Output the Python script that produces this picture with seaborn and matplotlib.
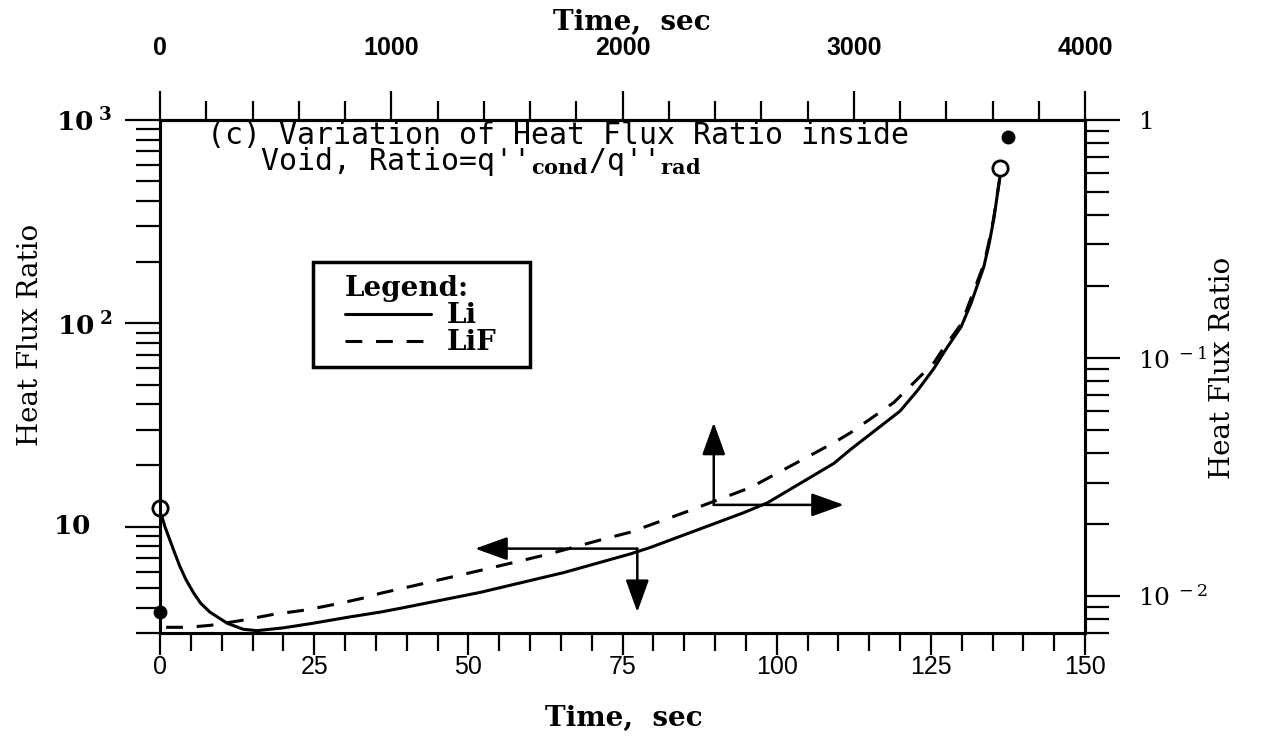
import numpy as np
import pandas as pd
import matplotlib
matplotlib.use("Agg")
import matplotlib.pyplot as plt
import seaborn as sns
from matplotlib.patches import Rectangle
from matplotlib.ticker import FixedLocator, FixedFormatter, NullFormatter

# ---------------- data ----------------
li_time = [0.2, 0.8, 1.6, 2.4, 3.2, 4.2, 5.4, 6.6, 8.1, 10.9, 13.5, 15.7,
           20.0, 24.8, 30.8, 35.7, 39.0, 51.9, 65.5, 76.3, 79.5, 94.6, 98.5,
           109.3, 112.0, 120.0, 122.9, 125.5, 127.5, 129.9, 131.5, 133.6,
           134.5, 135.2, 136.4]
li_ratio = [11.5, 10.0, 8.6, 7.4, 6.4, 5.5, 4.75, 4.2, 3.8, 3.35, 3.13, 3.08,
            3.18, 3.35, 3.6, 3.8, 3.97, 4.75, 5.95, 7.35, 7.9, 11.7, 13.1,
            20.5, 24.0, 37.0, 47.0, 60.0, 75.0, 96.0, 125.0, 190.0,
            250.0, 325.0, 575.0]

lif_time = [1.0, 4.4, 8.1, 13.0, 18.3, 23.8, 29.2, 33.6, 35.7, 39.0, 52.0,
            62.8, 71.4, 76.3, 84.9, 95.8, 109.3, 112.0, 119.0, 125.5, 127.0,
            128.2, 130.0, 131.8, 133.6, 134.4, 135.2, 136.4]
lif_ratio = [3.2, 3.2, 3.27, 3.45, 3.7, 3.9, 4.2, 4.5, 4.7, 4.95, 6.1,
             7.3, 8.6, 9.4, 11.7, 15.6, 25.9, 29.0, 40.8, 64.0, 75.0,
             84.0, 100.0, 140.0, 195.0, 250.0, 330.0, 575.0]

open_time = [0.0, 136.2]
open_ratio = [12.4, 580.0]
filled_time = [0.0, 137.5]
filled_ratio = [3.8, 825.0]

# arrows (tail x, tail y, head x, head y) in bottom/left axis units
arrow_left = (77.4, 7.8, 51.1, 7.8)
arrow_down = (77.4, 7.8, 77.4, 3.8)
arrow_up = (89.8, 12.8, 89.8, 32.5)
arrow_right = (89.8, 12.8, 110.9, 12.8)

bottom_major = [0, 25, 50, 75, 100, 125, 150]
bottom_minor = list(range(0, 151, 5))
top_major = [0, 1000, 2000, 3000, 4000]
top_minor = list(range(0, 4001, 200))
left_major = [10, 100, 1000]
left_labels = [r"$\mathbf{10}$", r"$\mathbf{10}^{\mathbf{\ 2}}$",
               r"$\mathbf{10}^{\mathbf{\ 3}}$"]
left_minor = [3, 4, 5, 6, 7, 8, 9, 20, 30, 40, 50, 60, 70, 80, 90,
              200, 300, 400, 500, 600, 700, 800, 900]
right_major = [0.01, 0.1, 1]
right_labels = [r"$10^{\ -2}$", r"$10^{\ -1}$", r"$1$"]
right_minor = [0.007, 0.008, 0.009, 0.02, 0.03, 0.04, 0.05, 0.06, 0.07, 0.08,
               0.09, 0.2, 0.3, 0.4, 0.5, 0.6, 0.7, 0.8, 0.9]

# ---------------- style ----------------
sns.set_style("ticks")
plt.rcParams["font.family"] = ["DejaVu Serif", "DejaVu Sans"]
plt.rcParams["mathtext.fontset"] = "dejavuserif"
plt.rcParams.update({"text.color": "black", "axes.labelcolor": "black",
                     "xtick.color": "black", "ytick.color": "black",
                     "axes.edgecolor": "black"})

SPINE_LW = 2.2
LINE_LW = 2.2

fig = plt.figure(figsize=(12.64, 7.47), dpi=100)
fig.patch.set_facecolor("white")
ax = fig.add_axes([160 / 1264, 1 - 633 / 747, 925 / 1264, 513 / 747])

df = pd.DataFrame({
    "Time": li_time + lif_time,
    "Ratio": li_ratio + lif_ratio,
    "Material": ["Li"] * len(li_time) + ["LiF"] * len(lif_time),
})
sns.lineplot(data=df, x="Time", y="Ratio", style="Material",
             dashes={"Li": "", "LiF": (5.5, 4.5)}, color="black",
             linewidth=LINE_LW, estimator=None, sort=False, ax=ax)

ax.plot(open_time, open_ratio, linestyle="none", marker="o", markersize=11,
        markerfacecolor="white", markeredgecolor="black", markeredgewidth=2,
        clip_on=False, zorder=5)
ax.plot(filled_time, filled_ratio, linestyle="none", marker="o", markersize=9,
        markerfacecolor="black", markeredgecolor="black", clip_on=False,
        zorder=5)

ax.set_yscale("log")
ax.set_xlim(0, 150)
ax.set_ylim(3, 1000)
ax.set_xlabel("")
ax.set_ylabel("")

ax.xaxis.set_major_locator(FixedLocator(bottom_major))
ax.xaxis.set_minor_locator(FixedLocator(bottom_minor))
ax.yaxis.set_major_locator(FixedLocator(left_major))
# the plain "10" label sits further left in the reference; drawn separately
ax.yaxis.set_major_formatter(FixedFormatter([""] + left_labels[1:]))
ax.yaxis.set_minor_locator(FixedLocator(left_minor))
ax.yaxis.set_minor_formatter(NullFormatter())
ax.text(-0.0757, left_major[0], left_labels[0], transform=ax.get_yaxis_transform(),
        ha="right", va="center", fontsize=19)

ax.tick_params(axis="x", which="major", direction="out", length=16, width=1.6,
               pad=0, labelsize=18)
ax.tick_params(axis="x", which="minor", direction="out", length=13, width=1.6)
ax.tick_params(axis="y", which="major", direction="out", length=25, width=1.6,
               pad=9, labelsize=19)
ax.tick_params(axis="y", which="minor", direction="out", length=17, width=1.6)
for lab in ax.get_xticklabels():
    lab.set_fontfamily("Liberation Sans")

for sp in ax.spines.values():
    sp.set_linewidth(SPINE_LW)
    sp.set_color("black")
    sp.set_visible(True)

# top axis
top = ax.secondary_xaxis("top", functions=(lambda t: t * 4000 / 150,
                                           lambda t: t * 150 / 4000))
top.xaxis.set_major_locator(FixedLocator(top_major))
top.xaxis.set_minor_locator(FixedLocator(top_minor))
top.tick_params(axis="x", which="major", direction="out", length=21, width=1.6,
                pad=22, labelsize=18)
top.tick_params(axis="x", which="minor", direction="out", length=14, width=1.6)
for lab in top.get_xticklabels():
    lab.set_fontfamily("Liberation Sans")
    lab.set_fontweight("bold")
top.spines["top"].set_linewidth(SPINE_LW)

# right axis
ax2 = ax.twinx()
ax2.set_yscale("log")
ax2.set_ylim(0.007, 1)
ax2.yaxis.set_major_locator(FixedLocator(right_major))
ax2.yaxis.set_major_formatter(FixedFormatter(right_labels))
ax2.yaxis.set_minor_locator(FixedLocator(right_minor))
ax2.yaxis.set_minor_formatter(NullFormatter())
ax2.tick_params(axis="y", which="major", direction="out", length=25, width=1.6,
                pad=13, labelsize=18)
ax2.tick_params(axis="y", which="minor", direction="out", length=17, width=1.6)
for sp in ax2.spines.values():
    sp.set_linewidth(SPINE_LW)
    sp.set_color("black")

# arrows
for (x0, y0, x1, y1) in [arrow_left, arrow_down, arrow_up, arrow_right]:
    ax.annotate("", xy=(x1, y1), xytext=(x0, y0),
                arrowprops=dict(arrowstyle="-|>,head_length=1.0,head_width=0.36",
                                mutation_scale=20, color="black", lw=1.8,
                                shrinkA=0, shrinkB=0))

# legend (content without frame, frame drawn as a box around it)
handles, labels = ax.get_legend_handles_labels()
keep = [(h, l) for h, l in zip(handles, labels) if l in ("Li", "LiF")]
for h, _ in keep:
    h.set_linewidth(LINE_LW)
    h.set_color("black")
leg = ax.legend([h for h, _ in keep], [l for _, l in keep], title="Legend:",
                loc="upper left", bbox_to_anchor=(0.2, 0.697),
                borderaxespad=0, frameon=False, fontsize=20,
                title_fontsize=20, handlelength=3.1, handletextpad=0.55,
                borderpad=0, labelspacing=0.0, alignment="left")
leg.get_title().set_fontweight("bold")
for t in leg.get_texts():
    t.set_fontweight("bold")
ax.add_patch(Rectangle((0.165, 0.518), 0.235, 0.205, transform=ax.transAxes,
                       fill=True, facecolor="white", edgecolor="black",
                       linewidth=2.5, zorder=4))
leg.set_zorder(6)

# annotation text (two lines in one text, monospace indent)
ax.text(0.051, 0.998,
        "(c) Variation of Heat Flux Ratio inside\n"
        r"   Void, Ratio=q''$_{\mathbf{cond}}$/q''$_{\mathbf{rad}}$",
        transform=ax.transAxes, fontsize=21.5, va="top", ha="left",
        linespacing=0.78, family=["DejaVu Sans Mono"])

# axis titles
fig.text(30 / 1264, 1 - 335 / 747, "Heat Flux Ratio", rotation=90,
         ha="center", va="center", fontsize=20)
fig.text(1222 / 1264, 1 - 368 / 747, "Heat Flux Ratio", rotation=90,
         ha="center", va="center", fontsize=20)
fig.text(624 / 1264, 1 - 718 / 747, "Time,  sec", ha="center", va="center",
         fontsize=20, fontweight="bold")
fig.text(632 / 1264, 1 - 22 / 747, "Time,  sec", ha="center", va="center",
         fontsize=20, fontweight="bold")

fig.savefig("out.png", dpi=100, facecolor="white")
